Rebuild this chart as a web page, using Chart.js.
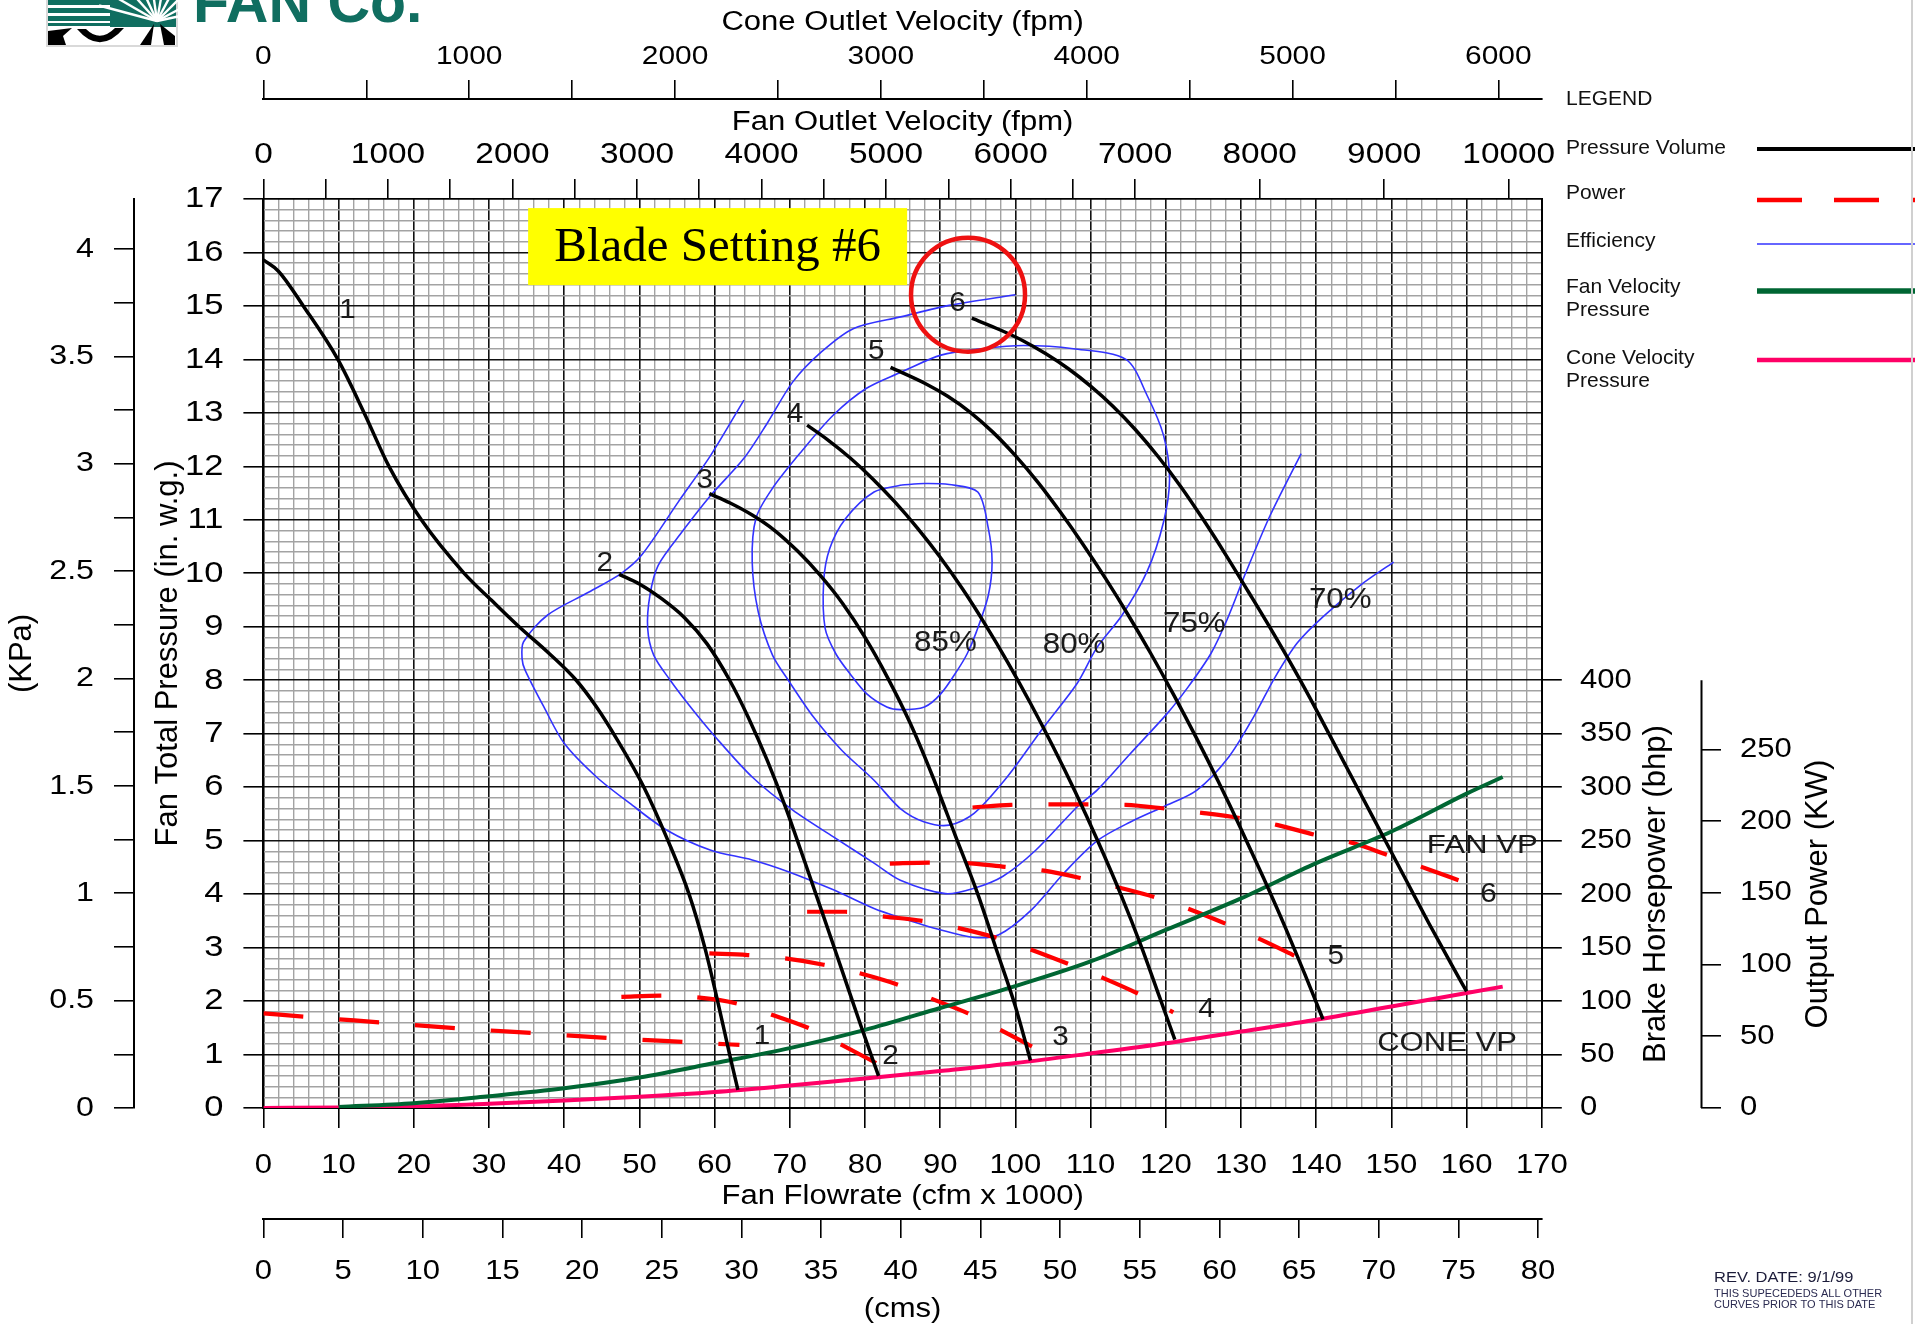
<!DOCTYPE html>
<html>
<head>
<meta charset="utf-8">
<script src="https://cdn.jsdelivr.net/npm/chart.js@4.4.1/dist/chart.umd.min.js"></script>
<style>
html,body{margin:0;padding:0;background:#fff;overflow:hidden}
#wrap{width:1915px;height:1324px;position:relative;background:#fff}
canvas{display:block}
</style>
</head>
<body>
<div id="wrap"><canvas id="c" width="1915" height="1324"></canvas></div>
<script>
// ---------------- DATA ----------------
// Axis tick labels
const flowTicks      = [0,10,20,30,40,50,60,70,80,90,100,110,120,130,140,150,160,170];      // cfm x 1000
const pressureTicks  = [0,1,2,3,4,5,6,7,8,9,10,11,12,13,14,15,16,17];                       // in. w.g.
const kpaTicks       = [0,0.25,0.5,0.75,1,1.25,1.5,1.75,2,2.25,2.5,2.75,3,3.25,3.5,3.75,4]; // KPa
const fanVelTicks    = [0,500,1000,1500,2000,2500,3000,3500,4000,4500,5000,5500,6000,6500,7000,8000,9000,10000];
const coneVelTicks   = [0,500,1000,1500,2000,2500,3000,3500,4000,4500,5000,5500,6000];
const cmsTicks       = [0,5,10,15,20,25,30,35,40,45,50,55,60,65,70,75,80];
const bhpTicks       = [0,50,100,150,200,250,300,350,400];
const kwTicks        = [0,50,100,150,200,250];

// Pressure-volume curves, [flow (cfm x 1000), total pressure (in. w.g.)]
const pvBlade1 = [[0,15.86],[2,15.65],[5.3,15.0],[9.9,14.0],[13.4,13.0],[16.7,12.0],[21.0,11.0],[26.7,10.0],[30.3,9.5],[34.0,9.0],[38.0,8.5],[41.6,8.0],[44.3,7.5],[47.0,6.9],[50.6,6.0],[53.8,5.0],[56.6,4.0],[58.7,3.0],[60.4,2.0],[62.0,1.0],[63.1,0.34]];
const pvBlade2 = [[47.3,9.98],[50,9.8],[53,9.52],[56,9.17],[59,8.68],[62,8.0],[64.5,7.3],[67,6.5],[69.5,5.6],[72,4.6],[74.5,3.58],[77,2.55],[79.5,1.52],[81.8,0.6]];
const pvBlade3 = [[59.3,11.49],[62,11.32],[65,11.09],[68,10.8],[71,10.42],[74,9.97],[77,9.44],[80,8.8],[83,8.05],[86,7.2],[89,6.2],[92,5.1],[95,4.0],[97.5,2.95],[100,1.9],[102,0.89]];
const pvBlade4 = [[72.3,12.77],[75,12.5],[78,12.16],[81,11.77],[84,11.33],[87,10.84],[90,10.3],[93,9.7],[96,9.04],[99,8.33],[102,7.57],[105,6.76],[108,5.9],[111,4.98],[114,4.0],[116.8,3.0],[119.1,2.1],[121.2,1.28]];
const pvBlade5 = [[83.4,13.85],[88,13.55],[91,13.31],[94,13.01],[97,12.64],[100,12.2],[103,11.7],[106,11.14],[109,10.54],[112,9.9],[115,9.22],[118,8.5],[121,7.74],[124,6.94],[127,6.1],[130,5.22],[133,4.3],[136,3.34],[138.5,2.5],[140.9,1.66]];
const pvBlade6 = [[94.2,14.77],[98,14.55],[101,14.35],[104,14.11],[107,13.83],[110,13.5],[113,13.12],[116,12.68],[119,12.18],[122,11.62],[125,11.0],[128,10.34],[131,9.65],[134,8.95],[137,8.22],[140,7.45],[143,6.65],[146,5.85],[149,5.05],[152,4.25],[155,3.45],[158,2.68],[160,2.18]];

// Velocity pressure curves, [flow, in. w.g.]
const fanVelocityPressure  = [[10,0.02],[20,0.09],[30,0.22],[40,0.37],[50,0.57],[60,0.84],[70,1.12],[80,1.46],[90,1.87],[100,2.28],[110,2.74],[120,3.33],[130,3.92],[140,4.58],[150,5.17],[160,5.88],[164.8,6.19]];
const coneVelocityPressure = [[0,0],[10,0.01],[20,0.03],[30,0.08],[40,0.14],[50,0.21],[60,0.3],[70,0.42],[80,0.55],[90,0.69],[100,0.84],[110,1.02],[120,1.21],[130,1.43],[140,1.65],[150,1.9],[160,2.15],[164.8,2.27]];

// Brake horsepower curves, [flow, bhp]
const powerBlade1 = [[0,88.5],[5.3,85.5],[15.6,80],[25.9,74.5],[35.9,70],[46,65.5],[56.6,61.5],[63.3,59]];
const powerBlade2 = [[47.6,104],[52.8,105],[57.6,103.5],[62.8,98],[67.7,87],[72.6,74.5],[76.9,59],[81.5,42]];
const powerBlade3 = [[59.3,144.5],[64.4,143],[69.3,140],[74.5,134],[79.3,126],[84.5,115],[88.7,102.5],[93.7,88.5],[98,73],[102.2,57.5]];
const powerBlade4 = [[72.3,183.5],[77.4,183.5],[82.6,179],[87.6,175],[92.6,168],[97.8,158.5],[102.1,148],[107.3,134],[111.7,121.5],[116.6,106],[121,89.5]];
const powerBlade5 = [[83.3,228.5],[88.5,229.5],[93.4,229],[98.6,225.5],[103.8,222],[108.7,215],[113.6,206.5],[118.6,197],[123.5,185],[128.4,171],[132.8,157],[137.4,141.5]];
const powerBlade6 = [[94.3,281],[99.4,283.5],[104.3,284],[109.8,284],[114.7,283.5],[119.9,280],[124.8,276],[130,271],[134.9,264.5],[140.1,255],[145,247.5],[149.9,235.5],[154.6,224],[159.5,211.5]];

// Efficiency contours, [flow, in. w.g.]
const eff85 = [[84.9,11.65],[81.2,11.52],[77.4,11.02],[75.3,10.46],[74.5,9.84],[74.7,8.97],[76.1,8.5],[78.0,8.12],[80.2,7.75],[82.9,7.5],[84.7,7.45],[87.9,7.5],[90.1,7.75],[92.3,8.19],[93.6,8.5],[94.8,8.9],[96.4,9.59],[96.9,10.21],[96.4,10.84],[95.0,11.52],[91.2,11.66],[87.9,11.68],[84.9,11.65]];
const eff80 = [[84.9,13.77],[80.2,13.46],[75.8,12.96],[71.5,12.27],[67.7,11.59],[65.5,11.03],[65.0,10.21],[65.8,9.28],[67.7,8.47],[69.8,8.0],[73.1,7.32],[76.9,6.69],[81.2,6.13],[84.7,5.6],[87.9,5.35],[91.2,5.29],[94.5,5.51],[98.9,6.19],[103.8,7.13],[108.2,7.94],[110.8,8.6],[114.2,9.22],[117.5,10.03],[119.7,10.96],[120.5,11.77],[119.7,12.58],[117.5,13.33],[114.7,14.0],[107.7,14.2],[101.1,14.26],[95.6,14.2],[90.1,14.08],[84.9,13.77]];
const eff75 = [[100.0,15.21],[91.2,15.01],[84.9,14.8],[78.5,14.58],[74.2,14.14],[70.4,13.58],[67.1,12.83],[63.9,12.15],[59.5,11.46],[55.7,10.78],[52.5,10.15],[51.4,9.59],[51.1,8.97],[51.9,8.47],[54.1,8.0],[56.8,7.5],[60.1,6.94],[65.0,6.19],[70.4,5.57],[75.8,5.07],[81.2,4.58],[84.7,4.26],[90.7,4.01],[94.5,4.11],[98.3,4.33],[102.7,4.82],[108.2,5.63],[110.9,5.95],[115.3,6.63],[120.2,7.38],[123.0,7.88],[126.0,8.5],[128.2,9.15],[130.6,10.0],[133.9,11.09],[138.0,12.24]];
const eff70 = [[63.9,13.24],[59.5,12.21],[55.2,11.34],[50.3,10.34],[47.6,10.0],[43.3,9.65],[37.8,9.22],[34.6,8.72],[34.4,8.4],[34.8,8.19],[37.3,7.5],[40.0,6.82],[44.3,6.19],[48.7,5.7],[53.6,5.2],[59.5,4.82],[65.0,4.64],[69.8,4.42],[75.8,4.08],[81.2,3.73],[84.7,3.56],[90.1,3.33],[94.5,3.19],[97.8,3.24],[102.1,3.7],[106.5,4.4],[110.9,5.0],[115.3,5.35],[119.6,5.63],[124.1,5.94],[128.4,6.57],[131.7,7.32],[134.5,8.05],[137.5,8.7],[141.0,9.2],[145.9,9.78],[150.3,10.21]];

// Text annotations inside the plot (data units)
const bladeLabels  = [['1',11.2,14.92],['2',45.4,10.19],['3',58.7,11.74],['4',70.7,12.96],['5',81.5,14.14],['6',92.3,15.05]];
const powerLabels  = [['1',66.3,1.34],['2',83.4,0.96],['3',106.0,1.31],['4',125.4,1.84],['5',142.6,2.83],['6',162.9,4.0]];
const effLabels    = [['85%',90.7,8.69],['80%',107.8,8.66],['75%',123.8,9.05],['70%',143.2,9.5]];
const vpLabels     = [['FAN VP',162.1,4.89],['CONE VP',157.4,1.21]];
const highlight    = {flow:93.7, pressure:15.21};            // red circle around blade 6 label
const settingBox   = {x0:35.2, x1:85.6, y0:15.39, y1:16.83, text:'Blade Setting #6'};

const legendItems = [
  {name:['Pressure Volume'], color:'#000000', width:4, dash:[]},
  {name:['Power'], color:'#ff0000', width:4.5, dash:[45,32]},
  {name:['Efficiency'], color:'#3333ff', width:1.6, dash:[]},
  {name:['Fan Velocity','Pressure'], color:'#006633', width:5.5, dash:[]},
  {name:['Cone Velocity','Pressure'], color:'#ff0066', width:4.5, dash:[]}
];

// unit conversions used for the secondary axes
const FLOW_MAX = 170, PRESS_MAX = 17;
const KPA_PER_INWG = 0.249;
const BHP_PER_INWG_SCALE = 50;        // chart: 50 bhp per inch division
const KW_PER_BHP = 0.7457;
const CMS_PER_KCFM = 1 / 2.11888;
const FAN_OUTLET_FT2 = 16.56, CONE_OUTLET_FT2 = 27.37;

// ---------------- RENDERING ----------------
const FONT = "'Liberation Sans', Arial, Helvetica, sans-serif";
const SERIF = "'Liberation Serif', 'Times New Roman', serif";

// the reference renders horizontal text slightly wide
let TEXT_SX = 1.15;
const _fill = CanvasRenderingContext2D.prototype.fillText;
CanvasRenderingContext2D.prototype.fillText = function (t, x, y, w) {
  const m = this.getTransform();
  if (TEXT_SX === 1 || Math.abs(m.b) > 1e-6 || Math.abs(m.c) > 1e-6) {
    return w === undefined ? _fill.call(this, t, x, y) : _fill.call(this, t, x, y, w);
  }
  this.save();
  this.translate(x, y);
  this.scale(TEXT_SX, 1);
  if (w === undefined) _fill.call(this, t, 0, 0); else _fill.call(this, t, 0, 0, w / TEXT_SX);
  this.restore();
};

Chart.defaults.font.family = FONT;
Chart.defaults.color = '#000';

const xy = pts => pts.map(p => ({x: p[0], y: p[1]}));
const MAJOR = '#111111', MINOR = '#a3a3a3';
const isMajorX = v => Math.abs(v / 10 - Math.round(v / 10)) < 1e-6;
const isMajorY = v => Math.abs(v - Math.round(v)) < 1e-6;

function fixedSize(sz) {
  return s => { if (s.isHorizontal()) s.height = sz; else s.width = sz; };
}
function setTicks(list) { return s => { s.ticks = list.map(v => ({value: v})); }; }
function minorTicks(max, step) {
  return s => { const n = Math.round(max / step); const t = []; for (let i = 0; i <= n; i++) t.push({value: Math.round(i * step * 1000) / 1000}); s.ticks = t; };
}
const tickOpts = (size, pad, cb) => ({font: {size, family: FONT}, color: '#000', padding: pad, autoSkip: false, maxRotation: 0, minRotation: 0, callback: cb});
const outerGrid = (len) => ({drawOnChartArea: false, drawTicks: true, tickLength: len, color: '#000', lineWidth: 1.6, tickWidth: 1.6});

const pvColor = '#000000', effColor = '#3333ff', powColor = '#ff0000';
const line = (data, color, width, extra) => Object.assign({data: xy(data), showLine: true, borderColor: color, backgroundColor: color, borderWidth: width, pointRadius: 0, pointHoverRadius: 0, fill: false}, extra || {});

const datasets = [
  {data: [{x: highlight.flow, y: highlight.pressure}], showLine: false, pointRadius: 57, pointHoverRadius: 57, pointBorderWidth: 4.5, pointBorderColor: '#ee1111', pointBackgroundColor: 'rgba(0,0,0,0)', borderColor: '#ee1111', backgroundColor: 'rgba(0,0,0,0)'},
  line(pvBlade1, pvColor, 3.5, {cubicInterpolationMode: 'monotone'}),
  line(pvBlade2, pvColor, 3.5, {cubicInterpolationMode: 'monotone'}),
  line(pvBlade3, pvColor, 3.5, {cubicInterpolationMode: 'monotone'}),
  line(pvBlade4, pvColor, 3.5, {cubicInterpolationMode: 'monotone'}),
  line(pvBlade5, pvColor, 3.5, {cubicInterpolationMode: 'monotone'}),
  line(pvBlade6, pvColor, 3.5, {cubicInterpolationMode: 'monotone'}),
  line(fanVelocityPressure, '#006633', 4, {cubicInterpolationMode: 'monotone'}),
  line(coneVelocityPressure, '#ff0066', 4, {cubicInterpolationMode: 'monotone'}),
  line(powerBlade1, powColor, 4.2, {yAxisID: 'yBhp', borderDash: [40, 36], cubicInterpolationMode: 'monotone'}),
  line(powerBlade2, powColor, 4.2, {yAxisID: 'yBhp', borderDash: [40, 36], cubicInterpolationMode: 'monotone'}),
  line(powerBlade3, powColor, 4.2, {yAxisID: 'yBhp', borderDash: [40, 36], cubicInterpolationMode: 'monotone'}),
  line(powerBlade4, powColor, 4.2, {yAxisID: 'yBhp', borderDash: [40, 36], cubicInterpolationMode: 'monotone'}),
  line(powerBlade5, powColor, 4.2, {yAxisID: 'yBhp', borderDash: [40, 36], cubicInterpolationMode: 'monotone'}),
  line(powerBlade6, powColor, 4.2, {yAxisID: 'yBhp', borderDash: [40, 36], cubicInterpolationMode: 'monotone'}),
  line(eff85, effColor, 1.6, {tension: 0.3}),
  line(eff80, effColor, 1.6, {tension: 0.3}),
  line(eff75, effColor, 1.6, {tension: 0.3}),
  line(eff70, effColor, 1.6, {tension: 0.3})
];
datasets.forEach(d => { d.xAxisID = 'x'; if (!d.yAxisID) d.yAxisID = 'y'; });

function drawText(ctx, text, x, y, font, sx, align, base, color) {
  TEXT_SX = sx;
  ctx.font = font; ctx.textAlign = align || 'center'; ctx.textBaseline = base || 'middle';
  ctx.fillStyle = color || '#000';
  ctx.fillText(text, x, y);
  TEXT_SX = 1.15;
}

const overlay = {
  id: 'overlay',
  afterDatasetsDraw(chart) {
    const {ctx} = chart, X = chart.scales.x, Y = chart.scales.y;
    ctx.save();
    for (const [t, fx, fy] of bladeLabels) drawText(ctx, t, X.getPixelForValue(fx), Y.getPixelForValue(fy), `27px ${FONT}`, 1.1, 'center', 'middle', '#1a1a1a');
    for (const [t, fx, fy] of powerLabels) drawText(ctx, t, X.getPixelForValue(fx), Y.getPixelForValue(fy), `27px ${FONT}`, 1.1, 'center', 'middle', '#1a1a1a');
    for (const [t, fx, fy] of effLabels) drawText(ctx, t, X.getPixelForValue(fx), Y.getPixelForValue(fy), `29px ${FONT}`, 1.08, 'center', 'middle', '#1a1a1a');
    drawText(ctx, vpLabels[0][0], X.getPixelForValue(vpLabels[0][1]), Y.getPixelForValue(vpLabels[0][2]), `25px ${FONT}`, 1.25, 'center', 'middle', '#1a1a1a');
    drawText(ctx, vpLabels[1][0], X.getPixelForValue(vpLabels[1][1]), Y.getPixelForValue(vpLabels[1][2]), `27px ${FONT}`, 1.15, 'center', 'middle', '#1a1a1a');
    // yellow "Blade Setting" box
    const bx0 = X.getPixelForValue(settingBox.x0), bx1 = X.getPixelForValue(settingBox.x1);
    const by0 = Y.getPixelForValue(settingBox.y1), by1 = Y.getPixelForValue(settingBox.y0);
    ctx.fillStyle = '#ffff00';
    ctx.fillRect(bx0, by0, bx1 - bx0, by1 - by0);
    drawText(ctx, settingBox.text, (bx0 + bx1) / 2, by0 + (by1 - by0) * 0.69, `49px ${SERIF}`, 1, 'center', 'alphabetic', '#000');
    ctx.restore();
  },
  afterDraw(chart) {
    const {ctx} = chart;
    const B = chart.scales.yBhp, K = chart.scales.yKW;
    ctx.save();
    // KW axis line (only over the bhp range that is labelled)
    ctx.strokeStyle = '#000'; ctx.lineWidth = 2;
    ctx.beginPath();
    ctx.moveTo(K.left + 0.5, K.getPixelForValue(0));
    ctx.lineTo(K.left + 0.5, K.getPixelForValue(bhpTicks[bhpTicks.length - 1] * KW_PER_BHP));
    ctx.stroke();
    // right axis titles (read bottom-to-top)
    const midB = (B.getPixelForValue(0) + B.getPixelForValue(bhpTicks[bhpTicks.length - 1])) / 2;
    ctx.save(); ctx.translate(B.left + 115, midB); ctx.rotate(-Math.PI / 2);
    drawText(ctx, 'Brake Horsepower (bhp)', 0, 0, `31px ${FONT}`, 1, 'center', 'middle');
    ctx.restore();
    ctx.save(); ctx.translate(K.left + 117, midB); ctx.rotate(-Math.PI / 2);
    drawText(ctx, 'Output Power (KW)', 0, 0, `31px ${FONT}`, 1, 'center', 'middle');
    ctx.restore();

    // Legend
    drawText(ctx, 'LEGEND', 1566, 105, `21px ${FONT}`, 1, 'left', 'alphabetic', '#111');
    const rows = [{base: 154, ly: 149}, {base: 199, ly: 200}, {base: 247, ly: 244}, {base: 293, ly: 291}, {base: 364, ly: 360}];
    legendItems.forEach((it, i) => {
      it.name.forEach((n, j) => drawText(ctx, n, 1566, rows[i].base + j * 23, `21px ${FONT}`, 1, 'left', 'alphabetic', '#111'));
      ctx.strokeStyle = it.color; ctx.lineWidth = it.width; ctx.setLineDash(it.dash); ctx.lineCap = 'butt';
      ctx.beginPath(); ctx.moveTo(1757, rows[i].ly); ctx.lineTo(1915, rows[i].ly); ctx.stroke();
      ctx.setLineDash([]);
    });

    // Logo (partially cropped at the top)
    const teal = '#106e60';
    ctx.fillStyle = '#d9d9d9'; ctx.fillRect(46, 0, 132, 47);
    ctx.fillStyle = '#ffffff'; ctx.fillRect(48, 0, 128, 45);
    ctx.fillStyle = teal;
    [[0,5],[8,5],[16,5],[23,3]].forEach(([yy, h]) => ctx.fillRect(48, yy, 70, h));
    ctx.fillRect(110, 0, 66, 27);
    ctx.strokeStyle = '#ffffff'; ctx.lineWidth = 2.4;
    [195, 210, 228, 245, 262, 280, 298, 315, 332, 348].forEach(a => {
      const r = a * Math.PI / 180;
      ctx.beginPath(); ctx.moveTo(157, 21); ctx.lineTo(157 + Math.cos(r) * 60, 21 + Math.sin(r) * 60); ctx.stroke();
    });
    ctx.fillStyle = '#000';
    ctx.beginPath(); ctx.moveTo(48, 45); ctx.lineTo(48, 31); ctx.lineTo(72, 28); ctx.lineTo(63, 36); ctx.lineTo(66, 45); ctx.closePath(); ctx.fill();
    ctx.beginPath(); ctx.moveTo(77, 29); ctx.quadraticCurveTo(100, 56, 124, 28); ctx.lineTo(115, 28); ctx.quadraticCurveTo(100, 43, 86, 29); ctx.closePath(); ctx.fill();
    ctx.beginPath(); ctx.moveTo(154, 24); ctx.lineTo(140, 45); ctx.lineTo(151, 45); ctx.closePath(); ctx.fill();
    ctx.beginPath(); ctx.moveTo(160, 24); ctx.lineTo(164, 45); ctx.lineTo(175, 45); ctx.lineTo(175, 36); ctx.closePath(); ctx.fill();
    drawText(ctx, 'FAN Co.', 193, 22, `bold 59px ${FONT}`, 1, 'left', 'alphabetic', teal);

    // Revision note
    drawText(ctx, 'REV. DATE: 9/1/99', 1714, 1282, `15px ${FONT}`, 1.1, 'left', 'alphabetic', '#1c1c3a');
    drawText(ctx, 'THIS SUPECEDEDS ALL OTHER', 1714, 1297, `11px ${FONT}`, 1.0, 'left', 'alphabetic', '#2a2a50');
    drawText(ctx, 'CURVES PRIOR TO THIS DATE', 1714, 1308, `11px ${FONT}`, 1.0, 'left', 'alphabetic', '#2a2a50');

    // page edge line
    ctx.strokeStyle = '#d0d0d0'; ctx.lineWidth = 2;
    ctx.beginPath(); ctx.moveTo(1912, 0); ctx.lineTo(1912, 1324); ctx.stroke();
    ctx.restore();
  }
};

new Chart(document.getElementById('c'), {
  type: 'scatter',
  data: {datasets},
  plugins: [overlay],
  options: {
    responsive: false, devicePixelRatio: 1, animation: false, events: [],
    layout: {padding: 0},
    plugins: {legend: {display: false}, tooltip: {enabled: false}},
    scales: {
      x: {
        type: 'linear', axis: 'x', position: 'bottom', weight: 0, min: 0, max: FLOW_MAX,
        afterBuildTicks: minorTicks(FLOW_MAX, 2), afterFit: fixedSize(111),
        grid: {drawOnChartArea: true, drawTicks: true, tickLength: 20,
          color: c => isMajorX(c.tick.value) ? MAJOR : MINOR,
          lineWidth: c => isMajorX(c.tick.value) ? 1.6 : 1.4,
          tickColor: c => isMajorX(c.tick.value) ? '#000' : 'rgba(0,0,0,0)', tickWidth: 1.6},
        border: {display: true, color: '#000', width: 2},
        ticks: tickOpts(27, 21.8, v => flowTicks.some(t => Math.abs(t - v) < 1e-6) ? String(Math.round(v)) : ''),
        title: {display: true, text: 'Fan Flowrate (cfm x 1000)', color: '#000', font: {size: 27, family: FONT}, padding: {top: 0, bottom: 5.8}}
      },
      cms: {
        type: 'linear', axis: 'x', position: 'bottom', weight: 1, min: 0, max: FLOW_MAX * CMS_PER_KCFM,
        afterBuildTicks: setTicks(cmsTicks), afterFit: fixedSize(105),
        grid: outerGrid(19), border: {display: true, color: '#000', width: 2},
        ticks: tickOpts(27, 17.8, v => String(v)),
        title: {display: true, text: '(cms)', color: '#000', font: {size: 27, family: FONT, lineHeight: 1.0}, padding: {top: 0, bottom: 0.5}}
      },
      y: {
        type: 'linear', axis: 'y', position: 'left', weight: 0, min: 0, max: PRESS_MAX,
        afterBuildTicks: minorTicks(PRESS_MAX, 0.2), afterFit: fixedSize(129.4),
        grid: {drawOnChartArea: true, drawTicks: true, tickLength: 20,
          color: c => isMajorY(c.tick.value) ? MAJOR : MINOR,
          lineWidth: c => isMajorY(c.tick.value) ? 1.6 : 1.4,
          tickColor: c => isMajorY(c.tick.value) ? '#000' : 'rgba(0,0,0,0)', tickWidth: 1.6},
        border: {display: true, color: '#000', width: 2},
        ticks: tickOpts(30, 20, v => pressureTicks.some(t => Math.abs(t - v) < 1e-6) ? String(Math.round(v)) : ''),
        title: {display: true, text: 'Fan Total Pressure (in. w.g.)', color: '#000', font: {size: 31, family: FONT}, padding: {top: 15.4, bottom: 0}}
      },
      yKPa: {
        type: 'linear', axis: 'y', position: 'left', weight: 1, min: 0, max: PRESS_MAX * KPA_PER_INWG,
        afterBuildTicks: setTicks(kpaTicks), afterFit: fixedSize(134),
        grid: outerGrid(20), border: {display: true, color: '#000', width: 2},
        ticks: tickOpts(28, 20, v => Math.abs(v * 2 - Math.round(v * 2)) < 1e-6 ? String(v) : ''),
        title: {display: true, text: '(KPa)', color: '#000', font: {size: 31, family: FONT}, padding: {top: 3.4, bottom: 0}}
      },
      xTop1: {
        type: 'linear', axis: 'x', position: 'top', weight: 0, min: 0, max: FLOW_MAX * 1000 / FAN_OUTLET_FT2,
        afterBuildTicks: setTicks(fanVelTicks), afterFit: fixedSize(100),
        grid: outerGrid(20), border: {display: true, color: '#000', width: 1.6},
        ticks: tickOpts(29, 6.6, v => v % 1000 === 0 ? String(v) : ''),
        title: {display: true, text: 'Fan Outlet Velocity (fpm)', color: '#000', font: {size: 27, family: FONT}, padding: {top: 7.8, bottom: 0}}
      },
      xTop2: {
        type: 'linear', axis: 'x', position: 'top', weight: 1, min: 0, max: FLOW_MAX * 1000 / CONE_OUTLET_FT2,
        afterBuildTicks: setTicks(coneVelTicks), afterFit: fixedSize(99),
        grid: outerGrid(19), border: {display: true, color: '#000', width: 2},
        ticks: tickOpts(26, 7.4, v => v % 1000 === 0 ? String(v) : ''),
        title: {display: true, text: 'Cone Outlet Velocity (fpm)', color: '#000', font: {size: 27, family: FONT}, padding: {top: 6.3, bottom: 0}}
      },
      yBhp: {
        type: 'linear', axis: 'y', position: 'right', weight: 0, min: 0, max: PRESS_MAX * BHP_PER_INWG_SCALE,
        afterBuildTicks: setTicks(bhpTicks), afterFit: fixedSize(159.2),
        grid: outerGrid(20), border: {display: true, color: '#000', width: 2},
        ticks: tickOpts(27, 18.2, v => String(v)),
        title: {display: false}
      },
      yKW: {
        type: 'linear', axis: 'y', position: 'right', weight: 1, min: 0, max: PRESS_MAX * BHP_PER_INWG_SCALE * KW_PER_BHP,
        afterBuildTicks: setTicks(kwTicks), afterFit: fixedSize(214),
        grid: outerGrid(20), border: {display: false},
        ticks: tickOpts(27, 19, v => String(v)),
        title: {display: false}
      }
    }
  }
});
</script>
</body>
</html>
